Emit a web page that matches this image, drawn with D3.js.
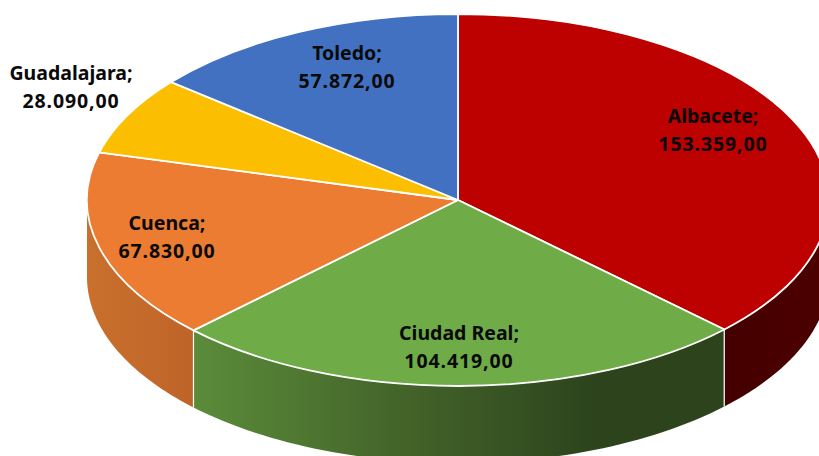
<!DOCTYPE html>
<html><head><meta charset="utf-8">
<script src="https://cdn.jsdelivr.net/npm/d3@7"></script>
<style>html,body{margin:0;padding:0;background:#fff;overflow:hidden}svg{display:block}
text{font-family:"Noto Sans","Open Sans",sans-serif;font-weight:700;font-size:19.5px;fill:#0a0a0a;text-anchor:middle}
text.val{letter-spacing:.9px}</style>
</head><body><svg width="819" height="456"></svg>
<script>
const categories=["Albacete","Ciudad Real","Cuenca","Guadalajara","Toledo"];
const values=[153359,104419,67830,28090,57872];
const labelValues=["153.359,00","104.419,00","67.830,00","28.090,00","57.872,00"];
const colors=["#bd0000","#6fac47","#eb7c31","#fbbe00","#4371c1"];
const labelCenters=[[713,123],[459,340],[167,230],[71,80],[347,60]];
const cx=458,cy=200,rx=371,ry=186,depth=77;
const svg=d3.select("svg");
const defs=svg.append("defs");
const sideStops=[
 [["0","#440000"],["1","#4c0000"]],
 [["0","#5b8c3a"],["0.5","#44652a"],["1","#2c431c"]],
 [["0","#c9702d"],["1","#bf6428"]]
];
const gradientRanges=[[725,820],[192,600],[87,192]];
gradientRanges.forEach((r,i)=>{
  const g=defs.append("linearGradient").attr("id","side"+i).attr("gradientUnits","userSpaceOnUse")
    .attr("x1",r[0]).attr("x2",r[1]).attr("y1",0).attr("y2",0);
  sideStops[i].forEach(d=>g.append("stop").attr("offset",d[0]).attr("stop-color",d[1]));
});
const pie=d3.pie().sort(null).value(d=>d)(values);
const px=a=>cx+rx*Math.sin(a), py=a=>cy-ry*Math.cos(a);
const chart=svg.append("g");
pie.forEach((d,i)=>{
  const a0=Math.max(d.startAngle,Math.PI/2),a1=Math.min(d.endAngle,Math.PI*1.5);
  if(a1<=a0)return;
  const n=60,as=d3.range(n+1).map(k=>a0+(a1-a0)*k/n);
  const line=d3.line().x(a=>px(a));
  const upper=line.y(a=>py(a))(as);
  const lower=line.y(a=>py(a)+depth)(as.slice().reverse());
  chart.append("path").attr("d",upper+"L"+lower.slice(1)+"Z").attr("fill",`url(#side${i})`);
});
[pie[0].endAngle,pie[1].endAngle].forEach(a=>{
  chart.append("line").attr("x1",px(a)).attr("x2",px(a)).attr("y1",py(a)).attr("y2",py(a)+depth)
    .attr("stroke","#fff").attr("stroke-width",1.2);
});
const arc=d3.arc().innerRadius(0).outerRadius(1);
const face=chart.append("g").attr("transform",`translate(${cx},${cy}) scale(${rx},${ry})`);
face.selectAll("path").data(pie).join("path").attr("d",arc)
  .attr("fill",(d,i)=>colors[i]).attr("stroke","#fff").attr("stroke-width",1.8)
  .attr("vector-effect","non-scaling-stroke").attr("stroke-linejoin","round");
const labels=svg.append("g");
categories.forEach((c,i)=>{
  const [x,y]=labelCenters[i];
  labels.append("text").attr("x",x).attr("y",y).text(c+";");
  labels.append("text").attr("class","val").attr("x",x).attr("y",y+28).text(labelValues[i]);
});
</script></body></html>
